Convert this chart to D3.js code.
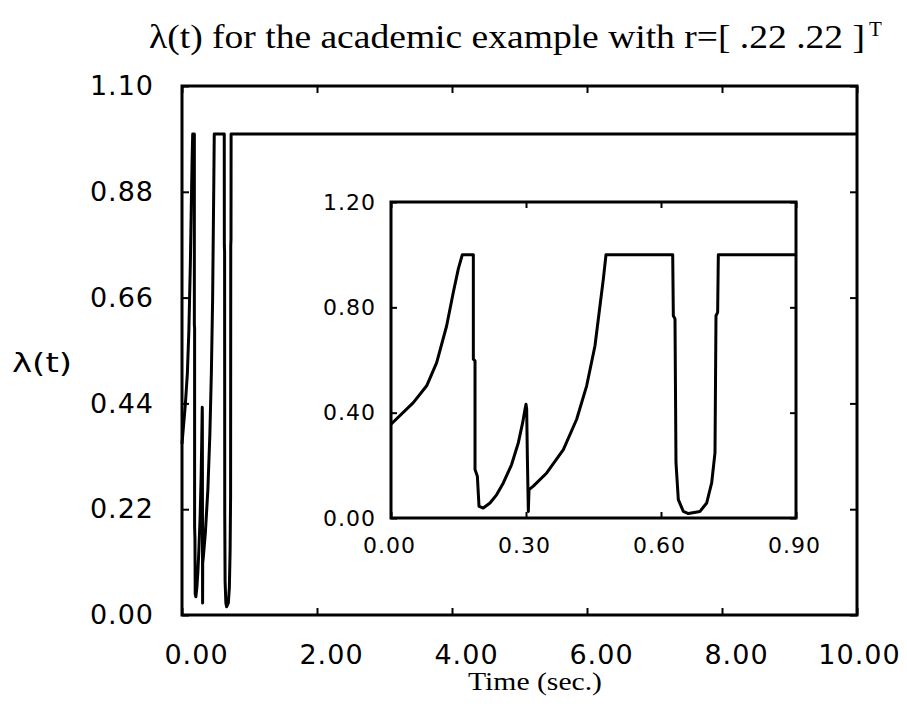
<!DOCTYPE html>
<html>
<head>
<meta charset="utf-8">
<script src="https://cdn.jsdelivr.net/npm/d3@7"></script>
<style>
  body { margin: 0; background: #fff; }
  .tick line { stroke: #000; stroke-width: 2; }
</style>
</head>
<body>
<div id="chart"></div>
<script>
// data (time in sec., lambda)
const timeValues = [
  0, 0.0496, 0.0793, 0.1015, 0.1237, 0.1385, 0.1496, 0.1585, 0.183, 0.183,
  0.1867, 0.1867, 0.1919, 0.1956, 0.205, 0.22, 0.235, 0.2496, 0.268, 0.283,
  0.2926, 0.2978, 0.30, 0.3015, 0.303, 0.3052, 0.3067, 0.3163, 0.346, 0.383,
  0.4126, 0.4348, 0.4533, 0.4644, 0.4719, 0.4778, 0.626, 0.6274, 0.6311, 0.6333,
  0.6385, 0.6496, 0.6607, 0.6867, 0.7015, 0.7126, 0.72, 0.7222, 0.7259, 0.7274,
  0.9, 10
];
const lambdaValues = [
  0.356, 0.438, 0.502, 0.59, 0.73, 0.857, 0.946, 1.0, 1.0, 0.603,
  0.597, 0.184, 0.159, 0.044, 0.038, 0.057, 0.089, 0.133, 0.203, 0.286,
  0.362, 0.413, 0.432, 0.413, 0.235, 0.025, 0.108, 0.121, 0.171, 0.26,
  0.375, 0.502, 0.654, 0.806, 0.908, 1.0, 1.0, 0.768, 0.756, 0.21,
  0.07, 0.025, 0.017, 0.025, 0.057, 0.133, 0.248, 0.768, 0.781, 1.0,
  1.0, 1.0
];
const mainXTicks = [0, 2, 4, 6, 8, 10];
const mainYTicks = [0, 0.22, 0.44, 0.66, 0.88, 1.10];
const insetXTicks = [0, 0.3, 0.6, 0.9];
const insetYTicks = [0, 0.4, 0.8, 1.2];

const points = timeValues.map((t, i) => ({t: t, v: lambdaValues[i]}));
const insetPoints = points.filter(d => d.t <= 0.9);

// config
const width = 907;
const height = 715;
const sans = "'DejaVu Sans', sans-serif";
const serif = "'Liberation Serif', 'DejaVu Serif', serif";

const svg = d3.select("#chart").append("svg")
  .attr("width", width)
  .attr("height", height)
  .style("background-color", "white");

const drawPanel = (opt) => {
  const x = d3.scaleLinear().domain(opt.xDomain).range([opt.left, opt.right]);
  const y = d3.scaleLinear().domain(opt.yDomain).range([opt.bottom, opt.top]);
  const g = svg.append("g");

  g.append("rect")
    .attr("x", opt.left).attr("y", opt.top)
    .attr("width", opt.right - opt.left).attr("height", opt.bottom - opt.top)
    .attr("fill", "white").attr("stroke", "#000").attr("stroke-width", 3);

  // inward ticks on all four sides
  const fmt = d3.format(".2f");
  const bottomAxis = g.append("g")
    .attr("transform", `translate(0,${opt.bottom})`)
    .call(d3.axisBottom(x).tickValues(opt.xTicks).tickSize(-opt.tick)
      .tickPadding(opt.xPad).tickFormat(fmt));
  const leftAxis = g.append("g")
    .attr("transform", `translate(${opt.left},0)`)
    .call(d3.axisLeft(y).tickValues(opt.yTicks).tickSize(-opt.tick)
      .tickPadding(opt.yPad).tickFormat(fmt));
  g.append("g").attr("transform", `translate(0,${opt.top})`)
    .call(d3.axisTop(x).tickValues(opt.xTicks).tickSize(-opt.tick).tickFormat(""));
  g.append("g").attr("transform", `translate(${opt.right},0)`)
    .call(d3.axisRight(y).tickValues(opt.yTicks).tickSize(-opt.tick).tickFormat(""));
  g.selectAll(".domain").remove();

  [bottomAxis, leftAxis].forEach(a => {
    a.selectAll("text")
      .attr("fill", "#000")
      .style("font-family", sans)
      .style("font-size", opt.fontSize + "px")
      .style("letter-spacing", opt.spacing + "px");
  });
  bottomAxis.selectAll("text").attr("dx", (d, i) => opt.xLabelShift(i));

  const line = d3.line().x(d => x(d.t)).y(d => y(d.v));
  g.append("path")
    .datum(opt.data)
    .attr("d", line)
    .attr("fill", "none")
    .attr("stroke", "#000")
    .attr("stroke-width", opt.lineWidth)
    .attr("stroke-linejoin", "round");
};

// main plot
drawPanel({
  left: 182, right: 857, top: 86, bottom: 615,
  xDomain: [0, 10], yDomain: [0, 1.1],
  xTicks: mainXTicks, yTicks: mainYTicks,
  tick: 7, xPad: 30, yPad: 28, fontSize: 27, spacing: 1,
  xLabelShift: i => (i === mainXTicks.length - 1 ? 2 : 14),
  data: points, lineWidth: 3
});

// inset
drawPanel({
  left: 391, right: 796, top: 202, bottom: 518,
  xDomain: [0, 0.9], yDomain: [0, 1.2],
  xTicks: insetXTicks, yTicks: insetYTicks,
  tick: 6, xPad: 19, yPad: 15, fontSize: 22, spacing: 1,
  xLabelShift: i => -2,
  data: insetPoints, lineWidth: 3
});

// title
svg.append("text")
  .attr("x", 149).attr("y", 48)
  .attr("textLength", 716).attr("lengthAdjust", "spacingAndGlyphs")
  .style("font-family", serif).style("font-size", "33px")
  .text("λ(t) for the academic example with r=[ .22  .22 ]");
svg.append("text")
  .attr("x", 869).attr("y", 36)
  .style("font-family", serif).style("font-size", "21px")
  .text("T");

// axis titles
svg.append("text")
  .attr("x", 12).attr("y", 372)
  .attr("textLength", 60).attr("lengthAdjust", "spacingAndGlyphs")
  .style("font-family", sans).style("font-size", "27px")
  .text("λ(t)");
svg.append("text")
  .attr("x", 468).attr("y", 690)
  .attr("textLength", 134).attr("lengthAdjust", "spacingAndGlyphs")
  .style("font-family", serif).style("font-size", "25px")
  .text("Time (sec.)");
</script>
</body>
</html>
